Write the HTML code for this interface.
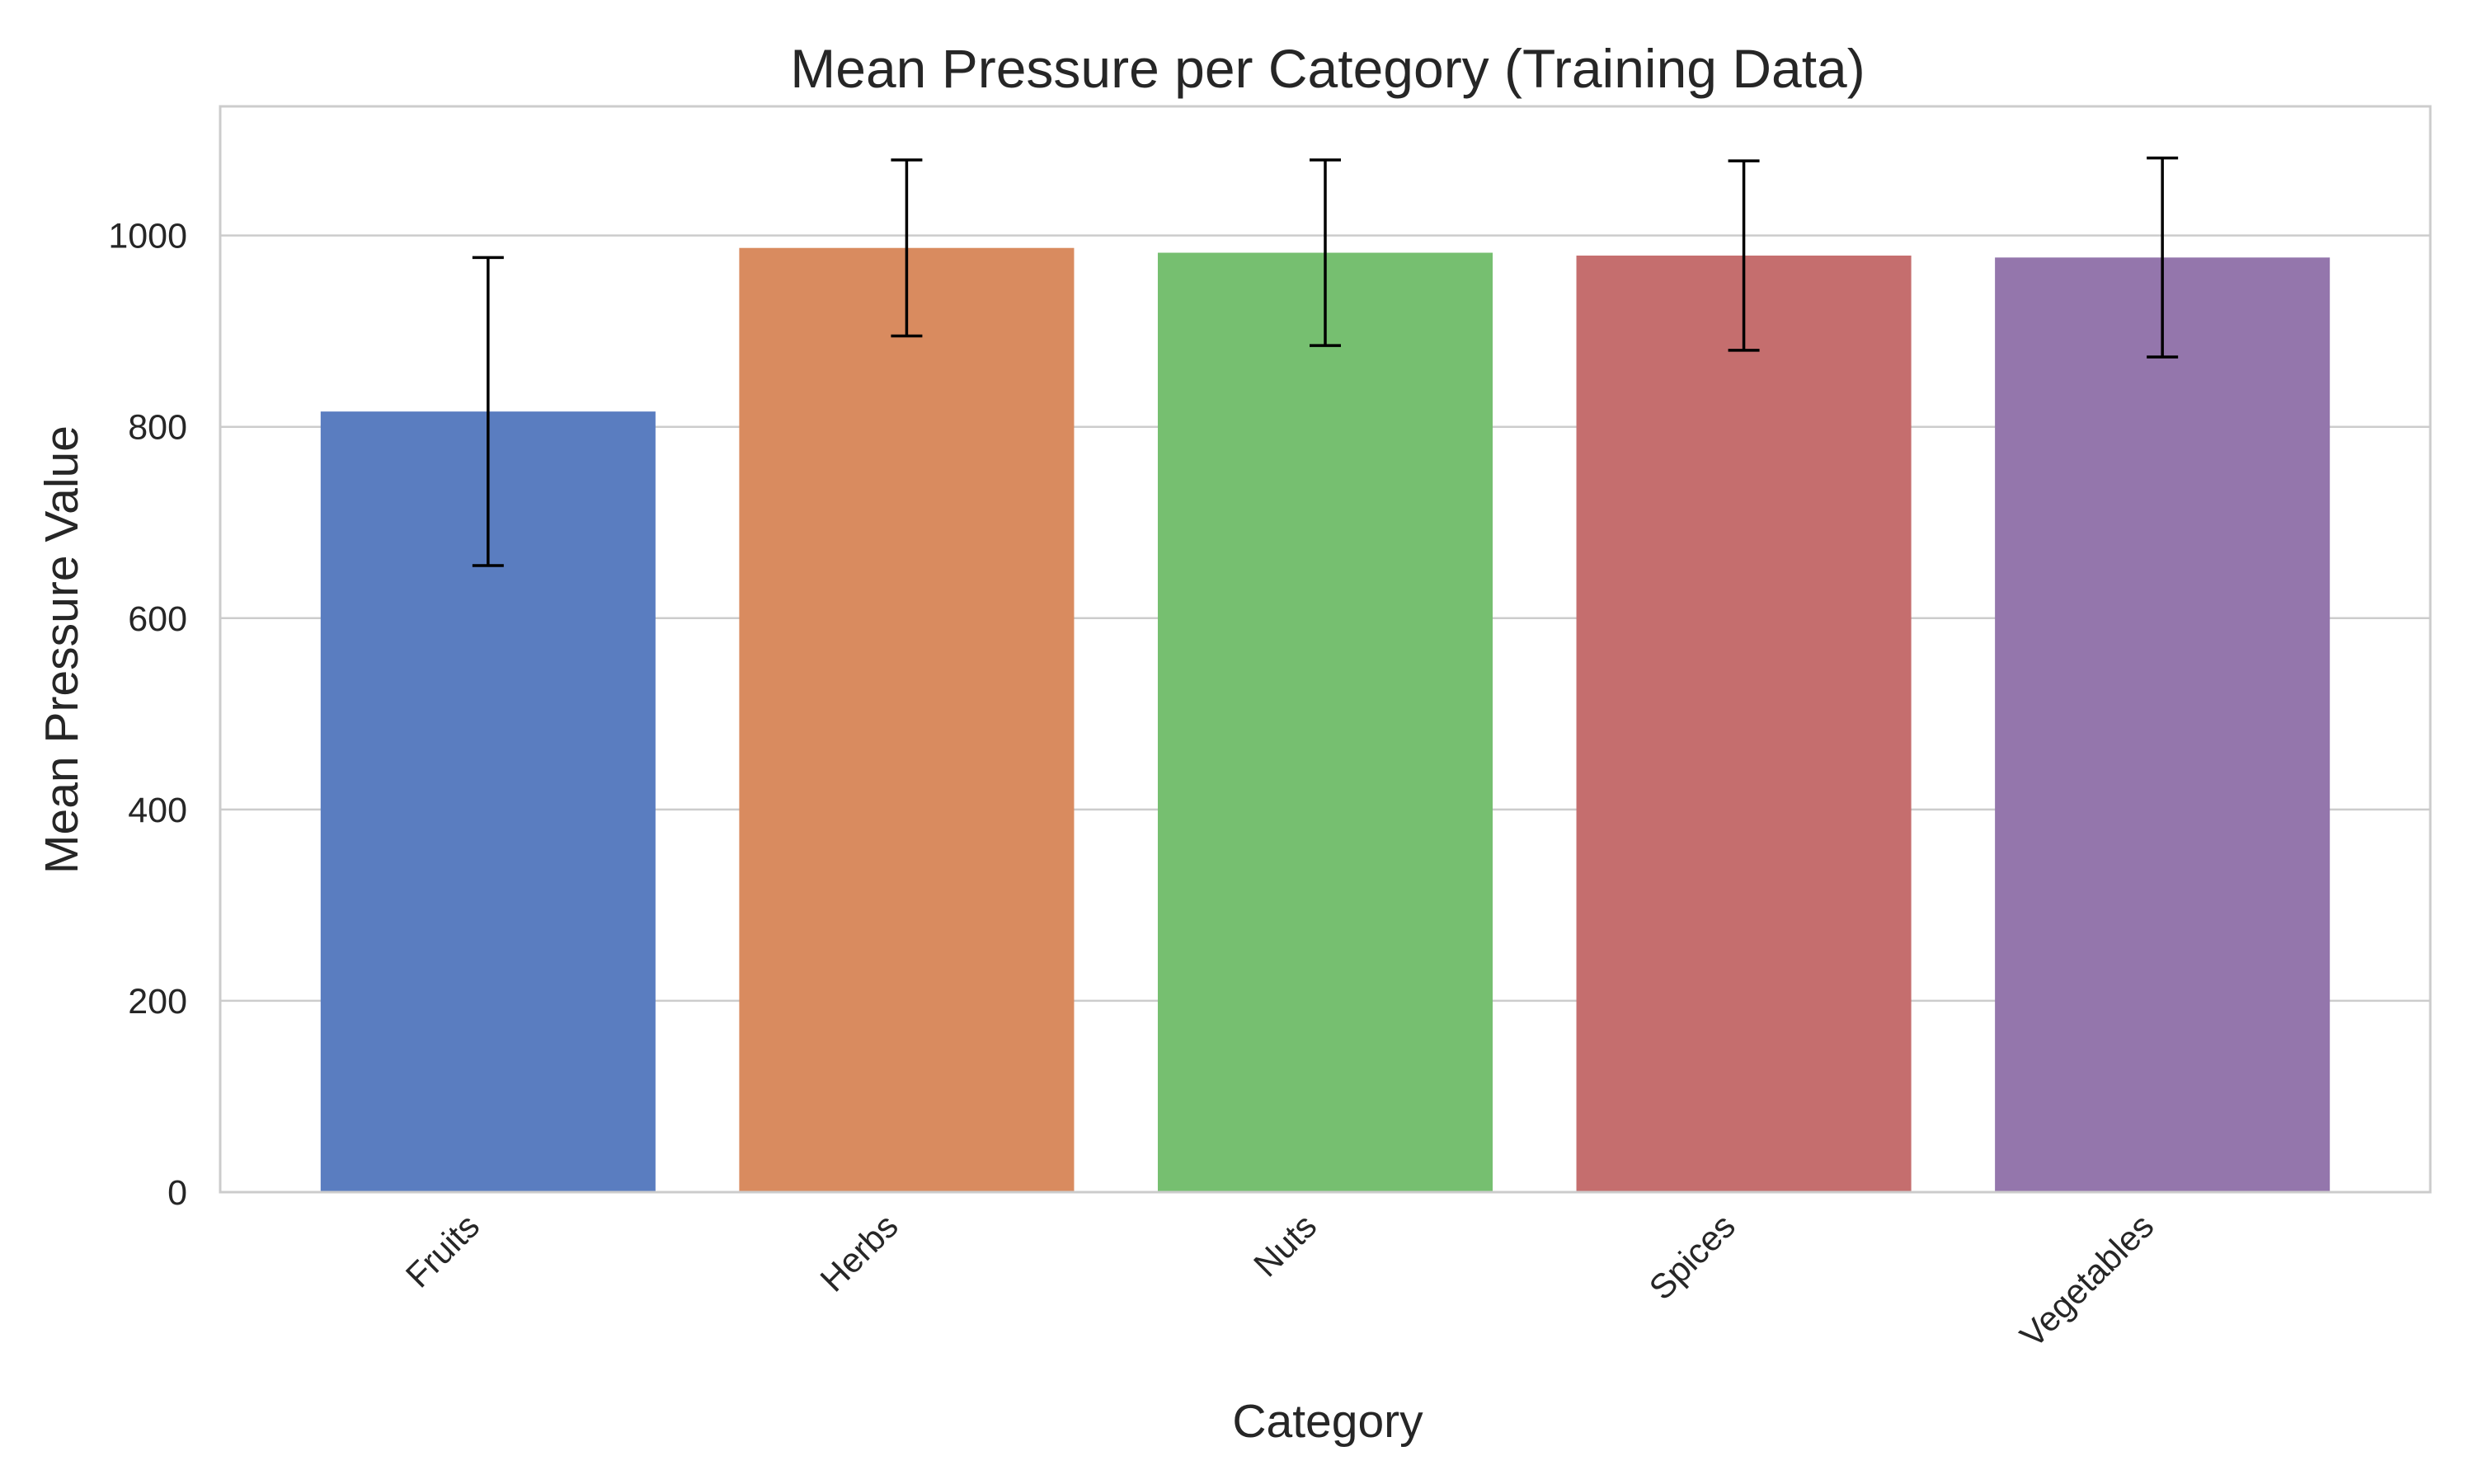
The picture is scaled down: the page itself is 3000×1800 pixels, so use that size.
<!DOCTYPE html>
<html><head><meta charset="utf-8"><style>
html,body{margin:0;padding:0;background:#fff;}
svg{display:block;font-family:"Liberation Sans",Arial,sans-serif;}
</style></head><body>
<svg id="chart" width="3000" height="1800" viewBox="0 0 3000 1800">
<rect width="3000" height="1800" fill="#fff"/>
<g id="grid"></g><g id="bars"></g><g id="errs"></g><g id="axes"></g>
<text x="1610" y="106" font-size="66" text-anchor="middle" fill="#262626">Mean Pressure per Category (Training Data)</text>
<text x="1610" y="1743" font-size="57" text-anchor="middle" fill="#262626">Category</text>
<text transform="translate(94,788) rotate(-90)" font-size="57" text-anchor="middle" fill="#262626">Mean Pressure Value</text>
</svg>
<script>
const categories=["Fruits","Herbs","Nuts","Spices","Vegetables"];
const means=[816,987,982,979,977];
const errors=[161,92,97,99,104];
const yTicks=[0,200,400,600,800,1000];
const colors=["#5a7dc0","#d98b5f","#76bf70","#c56e6e","#9476ac"];
const NS="http://www.w3.org/2000/svg";
const L=267,R=2947,T=129,B=1446,YMAX=1135,XMIN=-0.64,XMAX=4.64;
const y=v=>B-(v/YMAX)*(B-T);
const x=i=>L+(i-XMIN)/(XMAX-XMIN)*(R-L);
const bw=0.8*(R-L)/(XMAX-XMIN);
function mk(tag,attrs,parent,txt){const e=document.createElementNS(NS,tag);for(const k in attrs)e.setAttribute(k,attrs[k]);if(txt!==undefined)e.textContent=txt;document.getElementById(parent).appendChild(e);return e;}
yTicks.forEach(t=>{
  const g=mk('line',{x1:L,x2:R,y1:y(t),y2:y(t),stroke:'#cccccc','stroke-width':2.5},'grid');
  
  
  const lb=mk('text',{x:227,y:y(t)+15,'font-size':43,'text-anchor':'end',fill:'#262626'},'axes',String(t));
  
  
});
categories.forEach((c,i)=>{
  const r=mk('rect',{x:x(i)-bw/2,y:y(means[i]),width:bw,height:B-y(means[i]),fill:colors[i]},'bars');
  
  
  const top=y(means[i]+errors[i]),bot=y(means[i]-errors[i]),cx=x(i);
  const e=mk('path',{d:`M${cx},${top}V${bot}M${cx-19},${top}H${cx+19}M${cx-19},${bot}H${cx+19}`,stroke:'#000','stroke-width':3.5,fill:'none'},'errs');
  
  
  const t=mk('text',{transform:`translate(${cx-8},${1490}) rotate(-45)`,'font-size':42,'text-anchor':'end',fill:'#262626'},'axes',c);
  
  
});
const f=mk('rect',{x:L,y:T,width:R-L,height:B-T,fill:'none',stroke:'#cccccc','stroke-width':3},'axes');


</script>
</body></html>
